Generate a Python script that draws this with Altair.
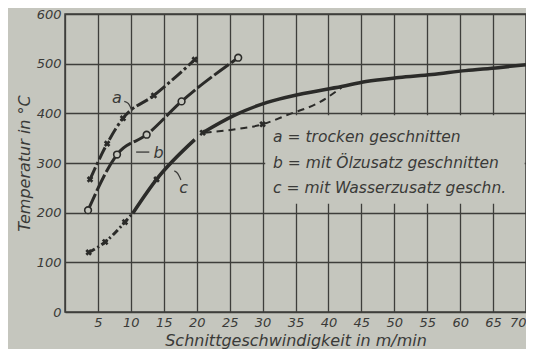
import altair as alt
import pandas as pd

BG = "#c5c6be"
INK = "#2b2b29"
GRID = "#3e3e3b"
TXT = "#3a3a38"
FONT = "DejaVu Sans"

# curve a: trocken geschnitten (crosses)
a_x = [3.8, 6.4, 8.8, 13.5, 19.7]
a_t = [267, 339, 390, 436, 508]
# curve b: mit Ölzusatz (open circles)
b_x = [3.5, 7.9, 12.4, 17.7, 26.3]
b_t = [205, 317, 357, 424, 512]
# curve c: mit Wasserzusatz, lower part (dash-dot, then solid)
c1_x = [3.6, 6.1, 9.1, 10.3]
c1_t = [120, 141, 181, 199]
c2_x = [10.3, 13.9, 19.7]
c2_t = [199, 267, 347]
# upper solid branch
cu_x = [20.9, 25.7, 30.7, 35.5, 42.0, 45.7, 50.7, 55.7, 60.8, 65.8, 70.0]
cu_t = [361, 396, 422, 438, 454, 464, 472, 478, 486, 492, 498]
# dashed branch
cd_x = [21.2, 25.4, 30.0, 34.0, 38.6, 42.0]
cd_t = [361, 367, 378, 398, 422, 452]
# cross markers of c
cm_x = [3.6, 6.1, 9.1, 13.9, 20.9, 30.0]
cm_t = [120, 141, 181, 267, 361, 378]

x_ticks = [0, 5, 10, 15, 20, 25, 30, 35, 40, 45, 50, 55, 60, 65, 70]
y_ticks = [0, 100, 200, 300, 400, 500, 600]

legend_lines = ["a = trocken geschnitten",
                "b = mit Ölzusatz geschnitten",
                "c = mit Wasserzusatz geschn."]
legend_t = [352, 300, 249]

def df(xs, ts):
    return pd.DataFrame({"x": xs, "t": ts})

X = alt.X("x:Q", scale=alt.Scale(domain=[0, 70], nice=False, zero=False),
          axis=alt.Axis(values=x_ticks, title="Schnittgeschwindigkeit in m/min",
                        labelExpr="datum.value == 0 ? '' : datum.label"))
Y = alt.Y("t:Q", scale=alt.Scale(domain=[0, 600], nice=False),
          axis=alt.Axis(values=y_ticks, title="Temperatur in °C"))

box = alt.Chart(pd.DataFrame({"x": [30.4], "x2": [69.8], "t": [218], "t2": [396]})).mark_rect(
    fill=BG, stroke=None).encode(x=X, x2="x2:Q", y=Y, y2="t2:Q")

line_a = alt.Chart(df(a_x, a_t)).mark_line(color=INK, strokeWidth=3, strokeDash=[13, 3, 3, 3],
                                          interpolate="monotone").encode(x=X, y=Y)
line_b = alt.Chart(df(b_x, b_t)).mark_line(color=INK, strokeWidth=3, strokeDash=[18, 3],
                                          interpolate="monotone").encode(x=X, y=Y)
line_c1 = alt.Chart(df(c1_x, c1_t)).mark_line(color=INK, strokeWidth=3, strokeDash=[7, 3, 2, 3],
                                             interpolate="monotone").encode(x=X, y=Y)
line_c2 = alt.Chart(df(c2_x, c2_t)).mark_line(color=INK, strokeWidth=3.5,
                                             interpolate="monotone").encode(x=X, y=Y)
line_cu = alt.Chart(df(cu_x, cu_t)).mark_line(color=INK, strokeWidth=3.5,
                                             interpolate="monotone").encode(x=X, y=Y)
line_cd = alt.Chart(df(cd_x, cd_t)).mark_line(color=INK, strokeWidth=2, strokeDash=[7, 5],
                                             interpolate="monotone").encode(x=X, y=Y)

cross_a = alt.Chart(df(a_x, a_t)).mark_point(shape="cross", angle=45, filled=True, color=INK,
                                            size=45, opacity=1).encode(x=X, y=Y)
cross_c = alt.Chart(df(cm_x, cm_t)).mark_point(shape="cross", angle=45, filled=True, color=INK,
                                              size=45, opacity=1).encode(x=X, y=Y)
circ_b = alt.Chart(df(b_x, b_t)).mark_point(shape="circle", filled=True, fill=BG, stroke=INK,
                                           strokeWidth=1.6, size=45, opacity=1).encode(x=X, y=Y)

lbl = pd.DataFrame({"x": [7.9, 14.2, 18.0], "t": [430, 320, 250], "txt": ["a", "b", "c"]})
labels = alt.Chart(lbl).mark_text(font=FONT, fontStyle="italic", fontSize=16, color=TXT,
                                  align="center", baseline="middle").encode(x=X, y=Y, text="txt:N")

lead = pd.DataFrame({"x": [9.0, 9.6, 10.2, 10.8, 12.8, 16.6, 17.1, 17.6],
                     "t": [424, 420, 404, 322, 322, 284, 279, 266],
                     "g": ["a", "a", "a", "b", "b", "c", "c", "c"]})
leaders = alt.Chart(lead).mark_line(color=TXT, strokeWidth=1.3, interpolate="monotone").encode(
    x=X, y=Y, detail="g:N")

leg = pd.DataFrame({"x": [31.6] * 3, "t": legend_t, "txt": legend_lines})
legend = alt.Chart(leg).mark_text(font=FONT, fontStyle="italic", fontSize=15.5, color=TXT,
                                  align="left", baseline="middle").encode(x=X, y=Y, text="txt:N")

chart = alt.layer(box, line_cd, line_a, line_b, line_c1, line_c2, line_cu,
                  cross_a, cross_c, circ_b, leaders, labels, legend).properties(
    width=461, height=298, background=BG,
    padding={"left": 57, "top": 6, "right": 0, "bottom": 37},
    autosize=alt.AutoSizeParams(type="none")
).configure_view(stroke=GRID, strokeWidth=1.5).configure_axis(
    grid=True, gridColor=GRID, gridWidth=1.3, gridOpacity=1,
    domain=False, ticks=False,
    labelFont=FONT, labelFontStyle="italic", labelFontSize=13, labelColor=TXT, labelPadding=4,
    titleFont=FONT, titleFontStyle="italic", titleFontSize=16, titleFontWeight="normal",
    titleColor=TXT
).configure_axisY(titlePadding=4).configure_axisX(titlePadding=3)

chart.save("out.html", embed_options={"renderer": "svg", "actions": False})
